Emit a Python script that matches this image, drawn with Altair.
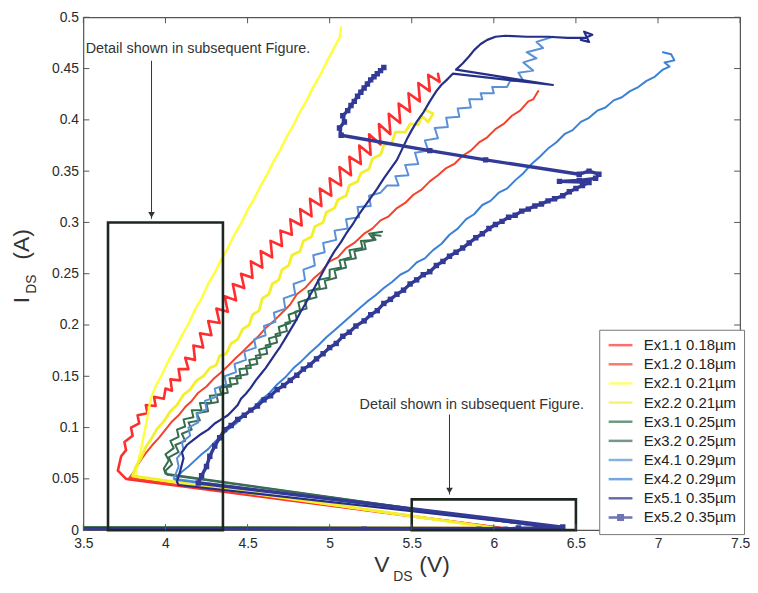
import altair as alt
import pandas as pd

FONT = "Liberation Sans"
W, H = 662, 517

# ---------------- data ----------------
names = ["Ex1.1 0.18µm", "Ex1.2 0.18µm", "Ex2.1 0.21µm", "Ex2.2 0.21µm", "Ex3.1 0.25µm",
         "Ex3.2 0.25µm", "Ex4.1 0.29µm", "Ex4.2 0.29µm", "Ex5.1 0.35µm", "Ex5.2 0.35µm"]
colors = ["#ff2e2e", "#f2442c", "#ffff3a", "#f4ef2c", "#2e7048",
          "#3d6b56", "#5a90d8", "#3c80d6", "#262f88", "#333a96"]
widths = [2.6, 2.0, 2.4, 2.8, 2.0, 2.0, 2.0, 2.0, 2.2, 3.4]

x_ticks = [3.5, 4, 4.5, 5, 5.5, 6, 6.5, 7, 7.5]
y_ticks = [0, 0.05, 0.1, 0.15, 0.2, 0.25, 0.3, 0.35, 0.4, 0.45, 0.5]

ex11 = [(3.0, 0.002), (6.05, 0.002), (3.76, 0.050), (3.71, 0.058), (3.73, 0.072), (3.76, 0.078),
        (3.75, 0.086), (3.80, 0.092), (3.79, 0.100), (3.84, 0.104), (3.83, 0.112), (3.89, 0.114),
        (3.88, 0.122), (3.94, 0.121), (3.93, 0.130), (3.99, 0.128), (4.00, 0.138), (4.04, 0.136),
        (4.03, 0.147), (4.09, 0.146), (4.08, 0.157), (4.14, 0.157), (4.12, 0.168), (4.18, 0.166),
        (4.17, 0.180), (4.23, 0.178), (4.21, 0.192), (4.28, 0.190), (4.26, 0.204), (4.33, 0.202),
        (4.31, 0.216), (4.38, 0.213), (4.36, 0.228), (4.43, 0.224), (4.41, 0.240), (4.48, 0.236),
        (4.46, 0.250), (4.53, 0.246), (4.52, 0.262), (4.59, 0.256), (4.58, 0.272), (4.65, 0.266),
        (4.64, 0.282), (4.71, 0.277), (4.70, 0.292), (4.77, 0.288), (4.76, 0.303), (4.83, 0.297),
        (4.82, 0.313), (4.89, 0.306), (4.88, 0.323), (4.95, 0.316), (4.94, 0.333), (5.01, 0.326),
        (5.00, 0.343), (5.07, 0.336), (5.06, 0.354), (5.13, 0.346), (5.12, 0.364), (5.19, 0.357),
        (5.18, 0.375), (5.25, 0.366), (5.24, 0.386), (5.31, 0.376), (5.30, 0.396), (5.37, 0.386),
        (5.36, 0.406), (5.43, 0.397), (5.42, 0.416), (5.49, 0.408), (5.48, 0.426), (5.55, 0.418),
        (5.54, 0.436), (5.61, 0.428), (5.60, 0.444), (5.67, 0.437), (5.66, 0.445)]

ex12 = [(3.0, 0.002), (6.05, 0.002), (3.78, 0.051), (3.80, 0.055), (3.84, 0.066), (3.88, 0.075),
        (3.92, 0.083), (3.96, 0.090), (4.00, 0.098), (4.04, 0.106), (4.08, 0.112), (4.12, 0.120),
        (4.16, 0.126), (4.20, 0.134), (4.25, 0.140), (4.29, 0.147), (4.34, 0.154), (4.38, 0.160),
        (4.43, 0.168), (4.47, 0.174), (4.52, 0.182), (4.56, 0.188), (4.61, 0.197), (4.66, 0.204),
        (4.71, 0.212), (4.76, 0.220), (4.80, 0.230), (4.85, 0.236), (4.90, 0.245), (4.95, 0.252),
        (5.00, 0.262), (5.05, 0.266), (5.10, 0.275), (5.15, 0.280), (5.21, 0.289), (5.26, 0.294),
        (5.31, 0.302), (5.36, 0.306), (5.41, 0.314), (5.46, 0.319), (5.51, 0.327), (5.56, 0.332),
        (5.61, 0.340), (5.66, 0.346), (5.71, 0.353), (5.76, 0.357), (5.81, 0.365), (5.86, 0.370),
        (5.91, 0.378), (5.96, 0.383), (6.01, 0.391), (6.06, 0.396), (6.11, 0.404), (6.16, 0.409),
        (6.21, 0.418), (6.24, 0.420), (6.27, 0.428)]

ex21 = [(3.0, 0.002), (6.00, 0.002), (3.82, 0.052), (3.83, 0.064), (3.85, 0.078), (3.87, 0.094),
        (3.89, 0.110), (3.91, 0.128), (3.94, 0.140), (3.98, 0.152), (4.02, 0.166), (4.06, 0.177),
        (4.10, 0.190), (4.14, 0.201), (4.18, 0.215), (4.22, 0.226), (4.26, 0.240), (4.30, 0.251),
        (4.34, 0.264), (4.38, 0.275), (4.42, 0.288), (4.46, 0.299), (4.50, 0.312), (4.54, 0.323),
        (4.58, 0.336), (4.62, 0.347), (4.66, 0.360), (4.70, 0.371), (4.74, 0.384), (4.78, 0.395),
        (4.82, 0.408), (4.86, 0.419), (4.90, 0.432), (4.94, 0.443), (4.98, 0.456), (5.02, 0.468),
        (5.06, 0.480), (5.07, 0.490)]

ex22 = [(3.0, 0.002), (6.02, 0.002), (3.80, 0.053), (3.82, 0.062), (3.85, 0.070), (3.88, 0.081),
        (3.91, 0.088), (3.95, 0.099), (3.99, 0.106), (4.03, 0.116), (4.07, 0.122), (4.11, 0.132),
        (4.15, 0.137), (4.19, 0.146), (4.23, 0.150), (4.27, 0.158), (4.31, 0.161), (4.33, 0.170),
        (4.37, 0.172), (4.40, 0.182), (4.44, 0.186), (4.47, 0.196), (4.51, 0.200), (4.53, 0.210),
        (4.57, 0.214), (4.59, 0.226), (4.63, 0.230), (4.65, 0.240), (4.69, 0.244), (4.71, 0.254),
        (4.75, 0.258), (4.77, 0.268), (4.82, 0.272), (4.84, 0.282), (4.89, 0.286), (4.91, 0.296),
        (4.96, 0.300), (4.98, 0.310), (5.03, 0.314), (5.05, 0.322), (5.10, 0.326), (5.12, 0.336),
        (5.17, 0.340), (5.19, 0.348), (5.24, 0.352), (5.26, 0.362), (5.31, 0.366), (5.33, 0.375),
        (5.38, 0.378), (5.40, 0.388), (5.46, 0.388), (5.49, 0.396), (5.54, 0.395), (5.56, 0.404),
        (5.60, 0.398), (5.63, 0.406), (5.58, 0.410)]

ex31 = [(3.0, 0.003), (6.35, 0.002), (4.00, 0.055), (3.99, 0.060), (4.02, 0.068), (4.00, 0.074),
        (4.05, 0.080),
        (4.03, 0.087), (4.08, 0.091), (4.07, 0.098), (4.12, 0.101), (4.11, 0.108), (4.17, 0.110),
        (4.16, 0.117), (4.22, 0.117), (4.21, 0.124), (4.28, 0.124), (4.27, 0.131), (4.34, 0.132),
        (4.33, 0.139), (4.40, 0.140), (4.39, 0.148), (4.46, 0.148), (4.45, 0.157), (4.52, 0.158),
        (4.51, 0.166), (4.58, 0.168), (4.57, 0.176), (4.64, 0.179), (4.63, 0.187), (4.70, 0.190),
        (4.69, 0.198), (4.76, 0.202), (4.75, 0.210), (4.82, 0.214), (4.81, 0.222), (4.88, 0.226),
        (4.87, 0.233), (4.94, 0.236), (4.93, 0.244), (5.00, 0.246), (5.00, 0.254), (5.07, 0.256),
        (5.06, 0.263), (5.13, 0.266), (5.12, 0.273), (5.20, 0.275), (5.19, 0.282), (5.27, 0.283),
        (5.24, 0.289), (5.32, 0.291)]

ex32 = [(3.0, 0.003), (6.36, 0.002), (4.01, 0.054), (4.00, 0.058), (4.04, 0.064), (4.02, 0.071),
        (4.08, 0.076),
        (4.06, 0.083), (4.12, 0.087), (4.10, 0.094), (4.16, 0.098), (4.14, 0.105), (4.21, 0.107),
        (4.19, 0.114), (4.26, 0.116), (4.25, 0.123), (4.32, 0.125), (4.31, 0.132), (4.38, 0.134),
        (4.37, 0.141), (4.44, 0.143), (4.43, 0.150), (4.50, 0.152), (4.49, 0.160), (4.56, 0.162),
        (4.55, 0.170), (4.62, 0.172), (4.61, 0.180), (4.68, 0.183), (4.67, 0.191), (4.74, 0.194),
        (4.73, 0.202), (4.80, 0.205), (4.79, 0.213), (4.86, 0.216), (4.85, 0.224), (4.92, 0.227),
        (4.91, 0.234), (4.98, 0.236), (4.97, 0.243), (5.04, 0.246), (5.03, 0.253), (5.10, 0.256),
        (5.09, 0.263), (5.16, 0.265), (5.15, 0.272), (5.22, 0.274), (5.21, 0.281), (5.28, 0.283),
        (5.26, 0.288), (5.31, 0.287)]

ex41 = [(3.0, 0.002), (6.38, 0.002), (4.05, 0.050), (4.08, 0.062), (4.07, 0.070), (4.11, 0.078),
        (4.10, 0.086), (4.15, 0.092), (4.14, 0.100), (4.20, 0.105), (4.19, 0.113), (4.25, 0.118),
        (4.24, 0.126), (4.31, 0.130), (4.30, 0.138), (4.37, 0.142), (4.36, 0.150), (4.43, 0.154),
        (4.42, 0.162), (4.49, 0.166), (4.48, 0.174), (4.55, 0.178), (4.54, 0.186), (4.61, 0.190),
        (4.60, 0.199), (4.67, 0.203), (4.66, 0.212), (4.73, 0.216), (4.72, 0.226), (4.79, 0.230),
        (4.78, 0.240), (4.85, 0.244), (4.84, 0.254), (4.91, 0.258), (4.90, 0.268), (4.97, 0.271),
        (4.96, 0.280), (5.04, 0.283), (5.03, 0.292), (5.11, 0.294), (5.10, 0.303), (5.18, 0.305),
        (5.17, 0.315), (5.25, 0.316), (5.24, 0.326), (5.31, 0.329), (5.35, 0.336), (5.42, 0.336),
        (5.40, 0.345), (5.48, 0.346), (5.46, 0.356), (5.54, 0.357), (5.52, 0.368), (5.60, 0.370),
        (5.58, 0.380), (5.66, 0.382), (5.64, 0.392), (5.72, 0.393), (5.71, 0.402), (5.79, 0.403),
        (5.78, 0.411), (5.86, 0.412), (5.85, 0.420), (5.93, 0.420), (5.92, 0.426), (6.00, 0.426),
        (5.99, 0.432), (6.08, 0.432), (6.10, 0.438), (6.18, 0.438), (6.15, 0.446), (6.24, 0.448),
        (6.18, 0.456), (6.26, 0.460), (6.20, 0.466), (6.30, 0.470), (6.26, 0.476), (6.36, 0.481)]

ex42 = [(3.0, 0.002), (6.40, 0.002), (4.06, 0.049), (4.10, 0.057), (4.14, 0.062), (4.18, 0.068),
        (4.22, 0.074), (4.26, 0.079), (4.30, 0.086), (4.34, 0.092), (4.38, 0.098), (4.43, 0.104),
        (4.48, 0.112), (4.53, 0.118), (4.58, 0.127), (4.63, 0.133), (4.68, 0.142), (4.73, 0.149),
        (4.78, 0.158), (4.83, 0.165), (4.88, 0.173), (4.93, 0.180), (4.98, 0.188), (5.03, 0.195),
        (5.08, 0.202), (5.13, 0.209), (5.18, 0.216), (5.23, 0.223), (5.28, 0.229), (5.33, 0.236),
        (5.38, 0.242), (5.43, 0.249), (5.48, 0.253), (5.53, 0.261), (5.58, 0.265), (5.63, 0.273),
        (5.68, 0.279), (5.73, 0.288), (5.78, 0.294), (5.83, 0.303), (5.88, 0.308), (5.93, 0.317),
        (5.98, 0.321), (6.03, 0.329), (6.08, 0.333), (6.13, 0.341), (6.18, 0.348), (6.23, 0.357),
        (6.28, 0.364), (6.33, 0.372), (6.38, 0.378), (6.43, 0.386), (6.48, 0.390), (6.53, 0.398),
        (6.58, 0.402), (6.63, 0.409), (6.68, 0.412), (6.73, 0.419), (6.78, 0.422), (6.83, 0.428),
        (6.88, 0.432), (6.93, 0.438), (6.98, 0.442), (7.03, 0.449), (7.07, 0.452), (7.04, 0.456),
        (7.10, 0.458), (7.08, 0.464), (7.03, 0.466)]

ex51 = [(3.0, 0.002), (6.42, 0.002), (4.08, 0.044), (4.07, 0.047), (4.09, 0.058), (4.11, 0.070),
        (4.10, 0.076),
        (4.13, 0.083), (4.17, 0.088), (4.22, 0.094), (4.26, 0.098), (4.30, 0.104), (4.34, 0.108),
        (4.38, 0.112), (4.41, 0.117), (4.44, 0.122), (4.46, 0.128), (4.49, 0.133), (4.52, 0.139),
        (4.55, 0.146), (4.58, 0.152), (4.61, 0.158), (4.64, 0.165), (4.67, 0.172), (4.70, 0.179),
        (4.73, 0.187), (4.76, 0.195), (4.79, 0.203), (4.82, 0.212), (4.85, 0.220), (4.88, 0.229),
        (4.91, 0.237), (4.94, 0.246), (4.97, 0.255), (5.00, 0.264), (5.03, 0.272), (5.07, 0.281),
        (5.10, 0.289), (5.14, 0.298), (5.17, 0.306), (5.21, 0.315), (5.25, 0.324), (5.29, 0.333),
        (5.33, 0.343), (5.37, 0.352), (5.41, 0.361), (5.44, 0.371), (5.47, 0.381), (5.50, 0.390),
        (5.53, 0.398), (5.57, 0.407), (5.61, 0.418), (5.65, 0.428), (5.68, 0.434), (5.72, 0.440),
        (5.75, 0.445), (6.36, 0.434), (5.77, 0.449), (5.81, 0.455), (5.85, 0.462), (5.88, 0.468),
        (5.92, 0.474), (5.96, 0.478), (6.01, 0.481), (6.07, 0.482), (6.20, 0.481), (6.33, 0.481),
        (6.45, 0.480), (6.56, 0.480), (6.60, 0.483), (6.55, 0.486), (6.58, 0.476), (6.53, 0.478)]

ex52 = [(3.0, 0.001), (5.21, 0.001), (5.91, 0.001), (6.01, 0.001), (6.07, 0.001), (6.15, 0.002),
        (6.26, 0.002), (6.42, 0.003), (4.20, 0.046), (4.22, 0.053), (4.25, 0.062), (4.27, 0.072),
        (4.30, 0.082), (4.33, 0.090), (4.36, 0.098), (4.40, 0.102), (4.44, 0.108), (4.48, 0.112),
        (4.52, 0.117), (4.56, 0.121), (4.60, 0.127), (4.64, 0.131), (4.68, 0.137), (4.72, 0.141),
        (4.76, 0.146), (4.80, 0.151), (4.84, 0.157), (4.88, 0.161), (4.92, 0.167), (4.96, 0.172),
        (5.00, 0.178), (5.04, 0.182), (5.08, 0.189), (5.12, 0.193), (5.16, 0.199), (5.21, 0.204),
        (5.25, 0.210), (5.29, 0.214), (5.33, 0.221), (5.37, 0.225), (5.41, 0.230), (5.45, 0.234),
        (5.49, 0.240), (5.53, 0.244), (5.57, 0.249), (5.61, 0.252), (5.65, 0.258), (5.69, 0.262),
        (5.73, 0.267), (5.77, 0.271), (5.81, 0.275), (5.85, 0.280), (5.89, 0.285), (5.93, 0.289),
        (5.97, 0.294), (6.01, 0.298), (6.05, 0.301), (6.09, 0.305), (6.13, 0.307), (6.17, 0.311),
        (6.21, 0.313), (6.25, 0.316), (6.29, 0.318), (6.33, 0.321), (6.37, 0.323), (6.42, 0.326),
        (6.46, 0.330), (6.50, 0.333), (6.54, 0.336), (6.58, 0.339), (6.40, 0.340), (6.52, 0.341),
        (6.62, 0.343), (6.64, 0.347), (6.58, 0.350), (6.52, 0.347), (5.95, 0.361), (5.61, 0.370),
        (5.07, 0.385), (5.06, 0.392), (5.09, 0.398), (5.08, 0.404), (5.11, 0.409), (5.13, 0.414),
        (5.15, 0.418), (5.17, 0.423), (5.19, 0.427), (5.21, 0.431), (5.23, 0.435), (5.25, 0.439),
        (5.27, 0.442), (5.29, 0.445), (5.31, 0.448), (5.33, 0.451)]

series_pts = [ex11, ex12, ex21, ex22, ex31, ex32, ex41, ex42, ex51, ex52]

# detail boxes and notes
box_v = [3.65, 5.5]
box_v2 = [4.35, 6.5]
box_i = [0.0, 0.0]
box_i2 = [0.30, 0.03]
note_text = ["Detail shown in subsequent Figure.", "Detail shown in subsequent Figure."]
note_v = [4.198, 5.866]
note_i = [0.469, 0.1223]
arrow_v = [3.915, 5.73]
arrow_top = [0.4576, 0.1127]
arrow_tip = [0.3035, 0.0347]

# ---------------- frames ----------------
rows = []
for name, col, w, pts in zip(names, colors, widths, series_pts):
    for k, (v, i) in enumerate(pts):
        rows.append({"series": name, "col": col, "w": w, "idx": k, "v": v, "i": i})
lines_df = pd.DataFrame(rows)
marker_df = pd.DataFrame(ex52, columns=["v", "i"])
legend_df = pd.DataFrame({"series": names, "v": [3.0] * len(names), "i": [-0.1] * len(names)})
box_df = pd.DataFrame({"v": box_v, "v2": box_v2, "i": box_i, "i2": box_i2})
note_df = pd.DataFrame({"t": note_text, "v": note_v, "i": note_i})
arrow_df = pd.DataFrame({"v": arrow_v, "i": arrow_top, "i2": arrow_tip})
xt_df = pd.DataFrame({"v": x_ticks})
yt_df = pd.DataFrame({"i": y_ticks})

xscale = alt.Scale(domain=[3.5, 7.5], nice=False, zero=False)
yscale = alt.Scale(domain=[0, 0.5], nice=False, zero=False)
xaxis = alt.Axis(values=x_ticks, format="~g", ticks=False, tickSize=0, domain=False, grid=False,
                 labelPadding=7, labelFlush=False, labelOverlap=False, title=None)
yaxis = alt.Axis(values=y_ticks, format="~g", ticks=False, tickSize=0, domain=False, grid=False,
                 labelPadding=5, labelFlush=False, labelOverlap=False, title=None)


def X(f="v"):
    return alt.X(f"{f}:Q", scale=xscale, axis=xaxis)


def Y(f="i"):
    return alt.Y(f"{f}:Q", scale=yscale, axis=yaxis)


lines = alt.Chart(lines_df).mark_line(clip=True, strokeJoin="round", strokeCap="round").encode(
    x=X(), y=Y(), detail="series:N",
    color=alt.Color("col:N", scale=None),
    strokeWidth=alt.StrokeWidth("w:Q", scale=None),
    order="idx:Q")

markers = alt.Chart(marker_df).mark_square(clip=True, size=30, color="#333a96", opacity=1).encode(
    x=X(), y=Y())

# legend symbols: a 24px stroke drawn from the symbol's left edge (size 144 -> r = 6)
stroke_path = "M-1,0H3"
mark_path = "M-1,0H3M0.62,-0.38H1.38V0.38H0.62Z"
leg = alt.Legend(orient="none", legendX=520, legendY=315, title=None, labelFont=FONT,
                 labelFontSize=15, labelColor="#222", symbolSize=144, symbolStrokeWidth=2.5,
                 rowPadding=3.3, padding=8, strokeColor="#777", fillColor="white", labelOffset=22,
                 labelLimit=300)
legend_layer = alt.Chart(legend_df).mark_point(clip=True, filled=False, strokeWidth=2.5).encode(
    x=X(), y=Y(),
    color=alt.Color("series:N", scale=alt.Scale(domain=names, range=colors), legend=leg),
    shape=alt.Shape("series:N", scale=alt.Scale(domain=names, range=[stroke_path] * 9 + [mark_path]),
                    legend=leg))

boxes = alt.Chart(box_df).mark_rect(fillOpacity=0, stroke="#1e2620", strokeWidth=2.6).encode(
    x=X(), x2=alt.X2("v2:Q"), y=Y(), y2=alt.Y2("i2:Q"))

shafts = alt.Chart(arrow_df).mark_rule(color="#333", strokeWidth=1).encode(
    x=X(), y=Y(), y2=alt.Y2("i2:Q"))
heads = alt.Chart(arrow_df).mark_point(shape="triangle-down", filled=True, size=45, color="#333",
                                       opacity=1, yOffset=-4).encode(x=X(), y=Y("i2"))

notes = alt.Chart(note_df).mark_text(font=FONT, fontSize=14.5, color="#333", align="center",
                                     baseline="middle").encode(x=X(), y=Y(), text="t:N")

tick_b = alt.Chart(xt_df).mark_rule(color="#555", strokeWidth=1).encode(
    x=X(), y=alt.value(H), y2=alt.value(H - 6))
tick_t = alt.Chart(xt_df).mark_rule(color="#555", strokeWidth=1).encode(
    x=X(), y=alt.value(0), y2=alt.value(6))
tick_l = alt.Chart(yt_df).mark_rule(color="#555", strokeWidth=1).encode(
    y=Y(), x=alt.value(0), x2=alt.value(6))
tick_r = alt.Chart(yt_df).mark_rule(color="#555", strokeWidth=1).encode(
    y=Y(), x=alt.value(W), x2=alt.value(W - 6))

one = pd.DataFrame({"a": [0]})


def label(txt, x, y, size, angle=0):
    return alt.Chart(one).mark_text(text=txt, font=FONT, fontSize=size, color="#333",
                                    align="center", baseline="middle", angle=angle).encode(
        x=alt.value(x), y=alt.value(y))


titles = [
    label("V", 301, 552, 23),
    label("DS", 322, 564, 14),
    label("(V)", 354, 552, 23),
    label("I", -62, 285, 23, 270),
    label("DS", -52, 269, 14, 270),
    label("(A)", -62, 229, 23, 270),
]

chart = alt.layer(
    lines, markers, boxes, shafts, heads, notes, legend_layer,
    tick_b, tick_t, tick_l, tick_r, *titles
).properties(
    width=W, height=H,
    autosize=alt.AutoSizeParams(type="none"),
    padding={"left": 76, "top": 7, "right": 10, "bottom": 61},
).configure_view(
    stroke="#555", strokeWidth=1.2
).configure_axis(
    labelFont=FONT, labelFontSize=14, labelColor="#2a2a2a"
)

chart.save("out.html", embed_options={"renderer": "svg", "actions": False})
